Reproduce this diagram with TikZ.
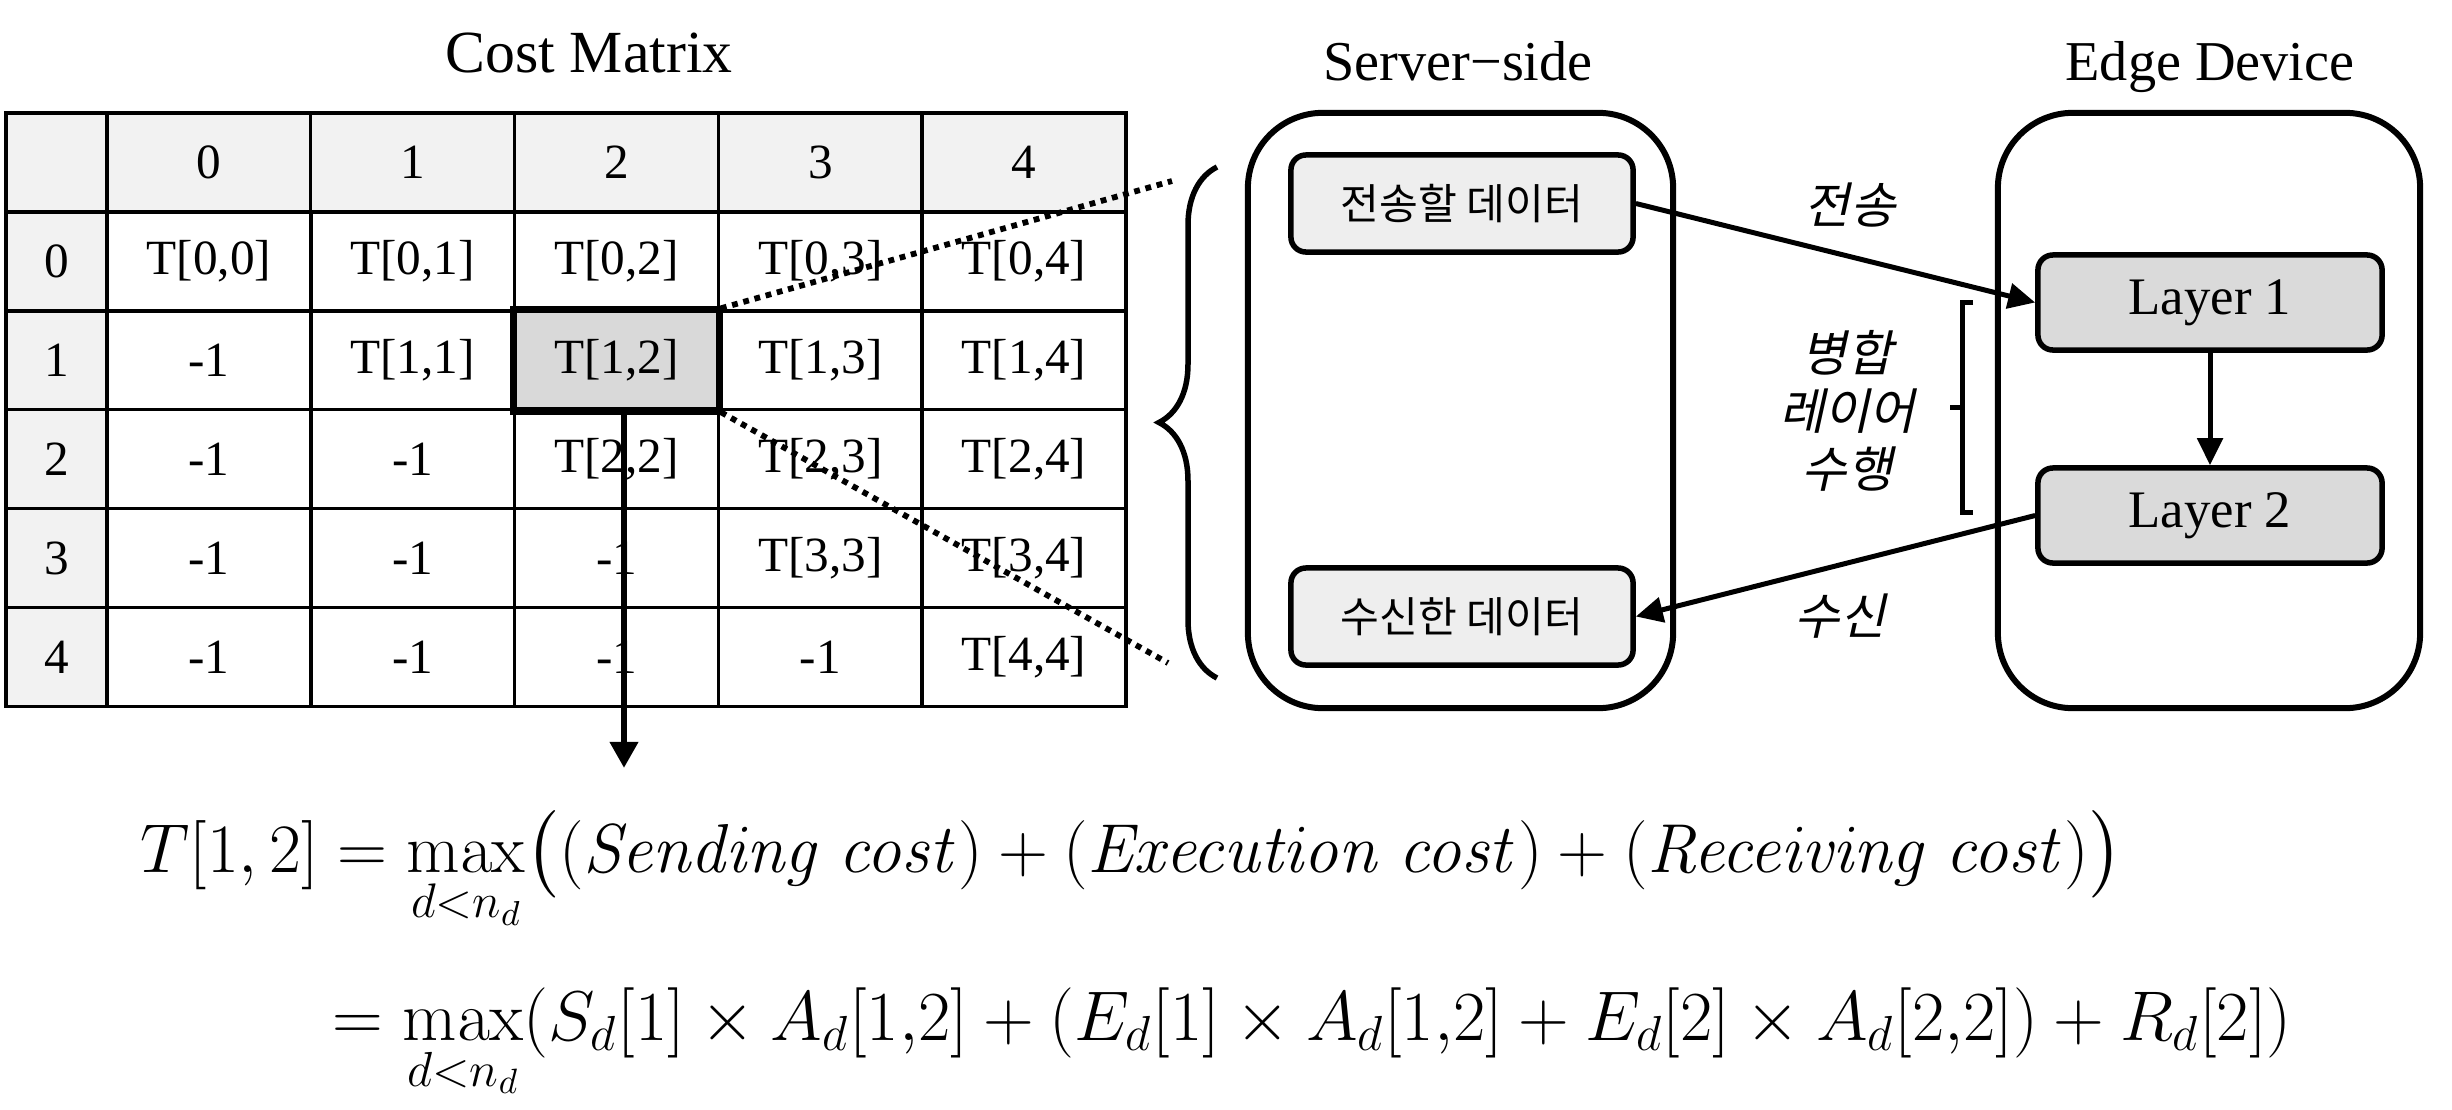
\RequirePackage{fix-cm}
\documentclass[tikz,border=0pt]{standalone}
\usepackage{amsmath}
\usepackage[no-math]{fontspec}
\setmainfont{Liberation Serif}
\newfontfamily\kr{Noto Sans CJK KR}
\newfontfamily\krit[FakeSlant=0.22]{Noto Sans CJK KR}
\usetikzlibrary{arrows.meta,decorations.pathreplacing}
\definecolor{hdrgray}{HTML}{F2F2F2}
\definecolor{hlgray}{HTML}{D9D9D9}
\definecolor{boxgray}{HTML}{EEEEEE}
\definecolor{laygray}{HTML}{DADADA}
\begin{document}
\begin{tikzpicture}[x=0.01cm,y=-0.01cm,
  cell/.style={draw, line width=0.035cm, minimum width=2.038cm, minimum height=0.989cm,
    inner sep=0pt, font=\fontsize{14}{16}\selectfont},
  hcell/.style={cell, fill=hdrgray},
  narrow/.style={minimum width=1.01cm},
  hl12/.style={fill=hlgray, line width=0.05cm},
  outerbox/.style={draw, line width=0.06cm, rounded corners=0.75cm, minimum width=4.25cm, minimum height=5.95cm},
  databox/.style={draw, line width=0.055cm, rounded corners=0.15cm, fill=boxgray,
    minimum width=3.42cm, minimum height=0.97cm, font=\kr\fontsize{12}{14}\selectfont},
  laybox/.style={draw, line width=0.055cm, rounded corners=0.15cm, fill=laygray,
    minimum width=3.44cm, minimum height=0.95cm, font=\fontsize{15}{18}\selectfont},
  title/.style={anchor=base, inner sep=0pt, font=\fontsize{16}{19}\selectfont},
  krlab/.style={inner sep=0pt, font=\krit\fontsize{14}{16}\selectfont},
  arr/.style={line width=0.05cm, -{Triangle[length=0.27cm,width=0.25cm]}},
  dotline/.style={line width=0.058cm, dash pattern=on 0.058cm off 0.058cm},
  eqline/.style={anchor=base west, inner sep=0pt}
]
\useasboundingbox (0,0) rectangle (2452,1109);

% titles
\node[title, font=\fontsize{17}{20}\selectfont] (tcost) at (589,72) {Cost Matrix};
\node[title] (tserver) at (1458,80) {Server−side};
\node[title] (tedge) at (2210,80) {Edge Device};

% table
\node[hcell, narrow] (corner) at (56.5,162.45) {};
\foreach \j in {0,...,4} {
  \node[hcell] (h\j) at ({208.9+203.8*\j},162.45) {\j};
}
\foreach \i in {0,...,4} {
  \node[hcell, narrow] (r\i) at (56.5,{261.35+98.9*\i}) {\i};
  \foreach \j in {0,...,4} {
    \node[cell, hl\i\j/.try] (m\i\j) at ({208.9+203.8*\j},{261.35+98.9*\i})
      {\ifnum\j<\i -1\else T[\i,\j]\fi};
  }
}
\draw[line width=0.05cm] (m12.north west) rectangle (m12.south east);

% dotted zoom lines and brace
\coordinate (dtop) at (1172,181);
\coordinate (dbot) at (1168,663);
\draw[dotline] (m12.north east) -- (dtop);
\draw[dotline] (m12.south east) -- (dbot);
\coordinate (brtop) at (1217,167);
\coordinate (brbot) at (1217,678);
\draw[line width=0.055cm, decorate, decoration={brace, amplitude=0.58cm}] (brbot) -- (brtop);

% down arrow
\coordinate (downend) at (624,768);
\draw[line width=0.065cm, -{Triangle[length=0.26cm,width=0.27cm]}] (m12.south -| downend) -- (downend);

% server and edge
\node[outerbox] (server) at (1460.5,410.5) {};
\node[outerbox, minimum width=4.22cm] (edge) at (2209,410.5) {};
\node[databox] (send) at (1462,203.5) {전송할 데이터};
\node[databox] (recv) at (1462,616.5) {수신한 데이터};
\node[laybox] (l1) at (2210,302.5) {Layer 1};
\node[laybox] (l2) at (2210,515.5) {Layer 2};

\draw[arr] (send.east) -- (l1.west);
\draw[arr] (l2.west) -- (recv.east);
\draw[arr] (l1.south) -- (l2.north);

\node[krlab] (lsend) at (1850,205) {전송};
\node[krlab] (lrecv) at (1840,616) {수신};
\node[krlab, align=center] (lmerge) at (1847,411) {병합\\[0.02cm]레이어\\[0.02cm]수행};

% small bracket
\coordinate (bka) at (1973,302);
\coordinate (bkb) at (1962,302);
\coordinate (bkc) at (1962,512);
\coordinate (bkd) at (1973,512);
\coordinate (bkm) at (1962,407);
\coordinate (bkn) at (1950,407);
\draw[line width=0.05cm] (bka) -- (bkb) -- (bkc) -- (bkd);
\draw[line width=0.05cm] (bkm) -- (bkn);

% formula
\node[eqline, font=\fontsize{19.7}{23}\selectfont] (eq1) at (140,872)
  {$T[1,2] = \max\limits_{d<n_d}\bigl((\mathit{Sending}\ \mathit{cost}) + (\mathit{Execution}\ \mathit{cost}) + (\mathit{Receiving}\ \mathit{cost})\bigr)$};
\node[eqline, font=\fontsize{20}{23}\selectfont] (eq2) at (332,1040)
  {$= \max\limits_{d<n_d}(S_d[1] \times A_d[1{,}2] + (E_d[1] \times A_d[1{,}2] + E_d[2] \times A_d[2{,}2]) + R_d[2])$};
\end{tikzpicture}
\end{document}
